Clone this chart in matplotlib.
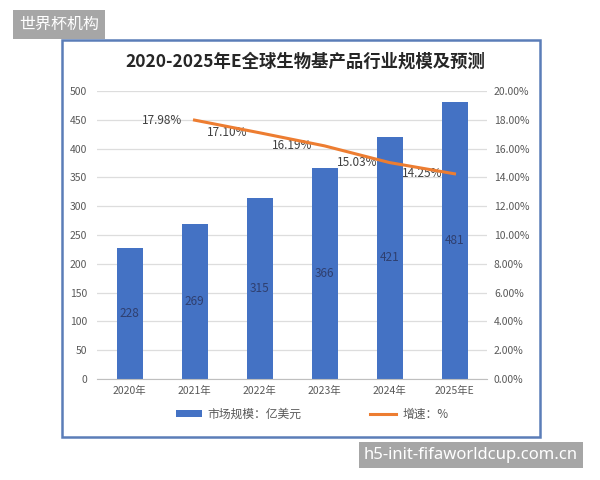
import matplotlib
matplotlib.use('Agg')  # non-interactive backend
import matplotlib.pyplot as plt
from matplotlib.patches import Rectangle, Patch
from matplotlib.lines import Line2D
from matplotlib.ticker import FuncFormatter, MultipleLocator

plt.rcParams['font.family'] = ['Noto Sans CJK SC', 'DejaVu Sans']

# Data
years = ['2020年', '2021年', '2022年', '2023年', '2024年', '2025年E']
market_size = [228, 269, 315, 366, 421, 481]          # 亿美元
growth_years = ['2021年', '2022年', '2023年', '2024年', '2025年E']
growth_rate = [17.98, 17.10, 16.19, 15.03, 14.25]      # %

BAR_COLOR = '#4472C4'
LINE_COLOR = '#ED7D31'
TEXT_GRAY = '#595959'

W, H = 600, 480
fig = plt.figure(figsize=(6, 4.8), dpi=100)


def px(x0, y0, x1, y1):
    """pixel box (top-left origin) -> figure rect"""
    return [x0 / W, 1 - y1 / H, (x1 - x0) / W, (y1 - y0) / H]


# outer blue frame of the chart
fr = px(62, 40, 540, 437)
fig.add_artist(Rectangle((fr[0], fr[1]), fr[2], fr[3], transform=fig.transFigure,
                         fill=False, edgecolor='#5B7DB8', linewidth=1.8))

ax = fig.add_axes(px(97, 91, 487, 379))
xs = list(range(len(years)))
ax.bar(xs, market_size, width=0.4, color=BAR_COLOR, zorder=2)
for x, v in zip(xs, market_size):
    ax.text(x, v / 2, str(v), ha='center', va='center', fontsize=8.5,
            color='#2F3F6F', zorder=3)

ax.set_xlim(-0.5, len(years) - 0.5)
ax.set_ylim(0, 500)
ax.yaxis.set_major_locator(MultipleLocator(50))
ax.set_xticks(xs)
ax.set_xticklabels(years)
ax.grid(axis='y', color='#DDDDDD', linewidth=0.9, zorder=0)
ax.set_axisbelow(True)
for s in ['top', 'right', 'left']:
    ax.spines[s].set_visible(False)
ax.spines['bottom'].set_color('#BFBFBF')
ax.tick_params(axis='both', length=0, labelsize=7.5, labelcolor=TEXT_GRAY)
ax.tick_params(axis='y', pad=7)
ax.tick_params(axis='x', pad=5)

ax2 = ax.twinx()
gx = [years.index(y) for y in growth_years]
ax2.plot(gx, growth_rate, color=LINE_COLOR, linewidth=2.2, zorder=4)
for x, v in zip(gx, growth_rate):
    ax2.annotate(f'{v:.2f}%', (x, v), xytext=(-9, 0), textcoords='offset points',
                 ha='right', va='center', fontsize=8.5, color='#404040')
ax2.set_ylim(0, 20)
ax2.yaxis.set_major_locator(MultipleLocator(2))
ax2.yaxis.set_major_formatter(FuncFormatter(lambda v, p: f'{v:.2f}%'))
for s in ax2.spines.values():
    s.set_visible(False)
ax2.tick_params(axis='y', length=0, labelsize=7.5, labelcolor=TEXT_GRAY, pad=5)

fig.text(305 / W, 1 - 62 / H, '2020-2025年E全球生物基产品行业规模及预测',
         ha='center', va='center', fontsize=12.5, fontweight='bold', color='#262626')

handles = [Patch(facecolor=BAR_COLOR, edgecolor='none'),
           Line2D([0], [0], color=LINE_COLOR, linewidth=2.2)]
fig.legend(handles, ['市场规模：亿美元', '增速：%'], loc='center',
           bbox_to_anchor=(312 / W, 1 - 414 / H), ncol=2, frameon=False,
           fontsize=8.5, labelcolor=TEXT_GRAY, handlelength=2.2, handleheight=0.6,
           columnspacing=5.8, handletextpad=0.5)

# watermark labels
fig.text(59 / W, 1 - 24.5 / H, '世界杯机构', ha='center', va='center', fontsize=11.5,
         color='white',
         bbox=dict(boxstyle='square,pad=0.35', facecolor='#A6A6A6', edgecolor='none'))
fig.text(471 / W, 1 - 455 / H, 'h5-init-fifaworldcup.com.cn', ha='center', va='center',
         fontsize=12, color='white', family=['Noto Sans', 'DejaVu Sans'],
         bbox=dict(boxstyle='square,pad=0.3', facecolor='#A6A6A6', edgecolor='none'))

fig.savefig('out.png', dpi=100, facecolor='white')
